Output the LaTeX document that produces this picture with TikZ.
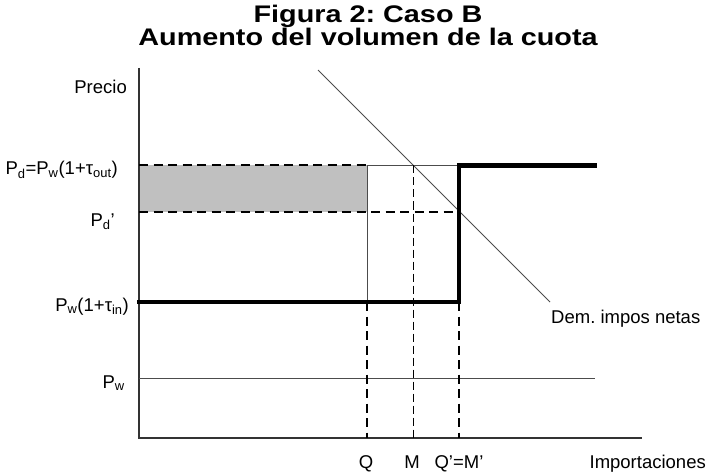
\documentclass[tikz,border=0pt]{standalone}
\usepackage{fontspec}
\setmainfont{Liberation Sans}
\usepackage{xcolor}
\usepackage{tikz}
\frenchspacing

\definecolor{rentgray}{RGB}{192,192,192}

\tikzset{
	axisline/.style={line width=1.1pt, draw=black!80},
	thinline/.style={line width=0.9pt, draw=black!70},
	stepline/.style={line width=4.5pt, line cap=rect},
	dashthick/.style={line width=2pt, dash pattern=on 9pt off 5.5pt},
	dashthin/.style={line width=1pt, dash pattern=on 8pt off 4pt},
	lbl/.style={inner sep=0pt, font=\fontsize{18.5}{20}\selectfont},
	ttl/.style={inner sep=0pt, anchor=base, xscale=1.2, font=\fontsize{24}{26}\selectfont\bfseries},
}

\begin{document}
	\begin{tikzpicture}[x=1pt, y=-1pt]
		\useasboundingbox (0,0) rectangle (717,473);

		% title
		\node[ttl] (title1) at (368,23) {Figura 2: Caso B};
		\node[ttl] (title2) at (368,46) {Aumento del volumen de la cuota};

		% axes
		\coordinate (o) at (139,438);
		\coordinate (ytop) at (139,68);
		\coordinate (xend) at (642,438);

		% price levels
		\coordinate (pd) at (139,165.5);
		\coordinate (pdp) at (139,211.5);
		\coordinate (pin) at (139,302);
		\coordinate (pw) at (139,378);
		\coordinate (pwend) at (595,378);

		% quantities
		\coordinate (qtop) at (367,165.5);
		\coordinate (qin) at (367,302);
		\coordinate (qbot) at (367,438);
		\coordinate (mtop) at (413,165.5);
		\coordinate (mbot) at (413,438);
		\coordinate (kin) at (459,302);
		\coordinate (kout) at (459,165.5);
		\coordinate (kmid) at (459,211.5);
		\coordinate (kbot) at (459,438);
		\coordinate (send) at (595,165.5);

		% demand
		\coordinate (dtop) at (318,70);
		\coordinate (dbot) at (550,302);

		% shaded rent
		\fill[rentgray] (pd) rectangle (367,211.5);

		\draw[axisline] (ytop) -- (o) -- (xend);
		\draw[thinline] (pw) -- (pwend);
		\draw[thinline] (dtop) -- (dbot);

		\draw[dashthick] (pd) -- (qtop);
		\draw[thinline] (qtop) -- (kout);
		\draw[dashthick] (pdp) -- (kmid);
		\draw[thinline] (qtop) -- (qin);
		\draw[dashthick] (qin) -- (qbot);
		\draw[dashthin] (mtop) -- (mbot);
		\draw[dashthick] (kin) -- (kbot);

		% supply with quota
		\draw[stepline] (pin) -- (kin) -- (kout) -- (send);

		% labels
		\node[lbl, anchor=base east] (lprecio) at (127,94) {Precio};
		\node[lbl, anchor=base east] (lpd) at (118,175)
			{P\textsubscript{d}=P\textsubscript{w}(1+τ\textsubscript{out})};
		\node[lbl, anchor=base east] (lpdp) at (115,226) {P\textsubscript{d}’};
		\node[lbl, anchor=base east] (lpin) at (129,311)
			{P\textsubscript{w}(1+τ\textsubscript{in})};
		\node[lbl, anchor=base east] (lpw) at (125,388) {P\textsubscript{w}};
		\node[lbl, anchor=base west] (ldem) at (551,323) {Dem. impos netas};
		\node[lbl, anchor=base] (lq) at (366,468) {Q};
		\node[lbl, anchor=base] (lm) at (412,468) {M};
		\node[lbl, anchor=base] (lqm) at (459,468) {Q’=M’};
		\node[lbl, anchor=base east] (limp) at (706,468) {Importaciones};
	\end{tikzpicture}
\end{document}
